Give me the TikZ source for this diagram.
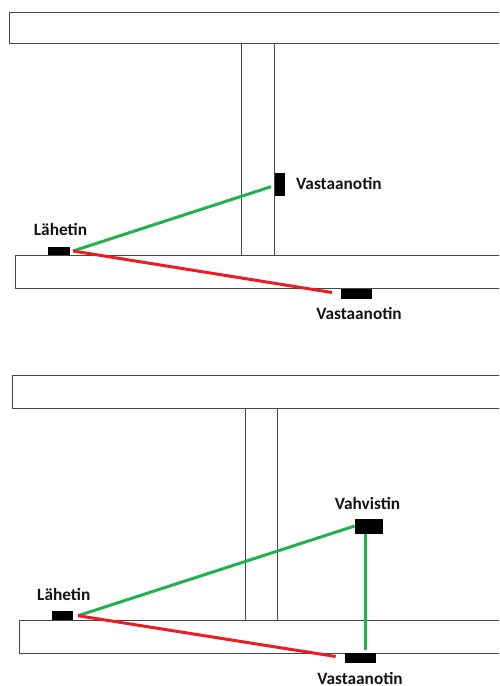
\documentclass[tikz,border=0pt]{standalone}
\usepackage{fontspec}
\setmainfont{Carlito}
\definecolor{sig}{RGB}{34,177,76}
\definecolor{blk}{RGB}{237,28,36}
\definecolor{edge}{RGB}{70,70,70}
\begin{document}
\begin{tikzpicture}[x=1pt,y=-1pt,
  slab/.style={draw=edge,line width=1.3pt,fill=white},
  wall/.style={draw=edge,line width=1.3pt},
  dev/.style={fill=black,draw=none,inner sep=0pt,outer sep=0pt},
  lbl/.style={font=\bfseries\fontsize{17.3}{20}\selectfont,inner sep=0pt,text=black!92},
  ok/.style={draw=sig,line width=3pt},
  bad/.style={draw=blk,line width=3pt}]
\useasboundingbox (0,0) rectangle (499,686);
\clip (0,0) rectangle (499,686);
\fill[white] (0,0) rectangle (499,686);
% ---------- upper panel ----------
\draw[slab] (9.5,12.5) rectangle (505,43.5);
\draw[wall] (241.5,43.5) -- (241.5,255.5);
\draw[wall] (274.5,43.5) -- (274.5,255.5);
\draw[slab] (15.5,255.5) rectangle (505,288.5);
\node[dev,minimum width=22pt,minimum height=8.5pt] (tx1) at (59,251) {};
\node[dev,minimum width=10pt,minimum height=23pt] (rx1) at (280,184.5) {};
\node[dev,minimum width=31pt,minimum height=10pt] (rx2) at (356.5,293.7) {};
\coordinate (s1) at (73,251);
\coordinate (g1) at (271,186.7);
\coordinate (r1) at (332,292.5);
\draw[ok] (s1) -- (g1);
\draw[bad] (s1) -- (r1);
\node[lbl] (l1) at (60.5,229.5) {Lähetin};
\node[lbl,anchor=west] (l2) at (296,183) {Vastaanotin};
\node[lbl] (l3) at (359,313) {Vastaanotin};
% ---------- lower panel ----------
\draw[slab] (12.5,375.5) rectangle (505,408.5);
\draw[wall] (245.5,408.5) -- (245.5,620.5);
\draw[wall] (277.5,408.5) -- (277.5,620.5);
\draw[slab] (19.5,620.5) rectangle (505,653.5);
\node[dev,minimum width=21pt,minimum height=8.5pt] (tx2) at (62.5,615.3) {};
\node[dev,minimum width=27.5pt,minimum height=15pt] (amp) at (369,526.2) {};
\node[dev,minimum width=31pt,minimum height=10pt] (rx3) at (360,658) {};
\coordinate (s2) at (78,615.7);
\coordinate (g2) at (354.7,526);
\coordinate (r2) at (335.7,656.5);
\coordinate (v2) at (365.7,650);
\draw[ok] (s2) -- (g2);
\draw[ok] (amp.south -| v2) -- (v2);
\draw[bad] (s2) -- (r2);
\node[lbl] (l4) at (63.8,594) {Lähetin};
\node[lbl] (l5) at (367.5,503.5) {Vahvistin};
\node[lbl] (l6) at (360,678.3) {Vastaanotin};
\end{tikzpicture}
\end{document}
